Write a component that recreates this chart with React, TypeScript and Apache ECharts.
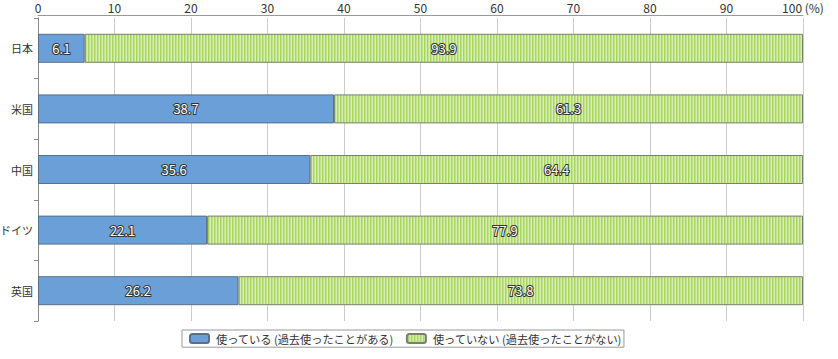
import React, { useEffect, useRef } from "react";
import * as echarts from "echarts";

const categories = ["日本", "米国", "中国", "ドイツ", "英国"];
const usedValues = [6.1, 38.7, 35.6, 22.1, 26.2];
const notUsedValues = [93.9, 61.3, 64.4, 77.9, 73.8];
const seriesNames = ["使っている (過去使ったことがある)", "使っていない (過去使ったことがない)"];
const xTicks = [0, 10, 20, 30, 40, 50, 60, 70, 80, 90, 100];

function makeStripe(): HTMLCanvasElement {
  const c = document.createElement("canvas");
  c.width = 3;
  c.height = 4;
  const ctx = c.getContext("2d")!;
  const cols = ["#d8efb2", "#a6d560", "#bfe28a"];
  cols.forEach((col, i) => {
    ctx.fillStyle = col;
    ctx.fillRect(i, 0, 1, 4);
  });
  return c;
}

export default function App() {
  const ref = useRef<HTMLDivElement>(null);
  useEffect(() => {
    if (!ref.current) return;
    const chart = echarts.init(ref.current, null, { renderer: "svg" });
    const font = "'Noto Sans CJK JP', 'Noto Sans', sans-serif";
    const stripe = makeStripe();
    const label = {
      show: true,
      position: "inside",
      color: "#fff",
      textBorderColor: "#333",
      textBorderWidth: 2,
      fontSize: 13,
      fontFamily: font,
      formatter: (p: any) => p.value.toFixed(1),
    };
    chart.setOption({
      animation: false,
      textStyle: { fontFamily: font },
      grid: { left: 38, right: 35, top: 18, bottom: 38, outerBoundsMode: "none", containLabel: false },
      xAxis: {
        type: "value",
        position: "top",
        min: xTicks[0],
        max: xTicks[xTicks.length - 1],
        interval: 10,
        offset: 3,
        axisLine: { show: true, lineStyle: { color: "#999" } },
        axisTick: { show: false },
        axisLabel: {
          color: "#333",
          fontSize: 12,
          lineHeight: 12,
          margin: 2,
          formatter: (v: number) => (v === 100 ? "100 (%)" : String(v)),
        },
        splitLine: { show: true, lineStyle: { color: "#ccc" } },
      },
      yAxis: {
        type: "category",
        inverse: true,
        data: categories,
        axisLine: { show: true, lineStyle: { color: "#888" } },
        axisTick: { show: true, length: 4, lineStyle: { color: "#888" } },
        axisLabel: { color: "#333", fontSize: 11, margin: 5 },
      },
      legend: {
        top: 330,
        left: 182,
        itemWidth: 19,
        itemHeight: 9,
        itemGap: 12,
        padding: [3, 2, 3, 7],
        borderColor: "#999",
        borderWidth: 1,
        textStyle: { color: "#333", fontSize: 11.2, padding: [0, 0, 0, 2] },
        data: seriesNames,
      },
      series: [
        {
          name: seriesNames[0],
          type: "bar",
          stack: "total",
          barWidth: 29,
          data: usedValues,
          itemStyle: { color: "#6a9fd8", borderColor: "#5a6f8a", borderWidth: 1 },
          label,
        },
        {
          name: seriesNames[1],
          type: "bar",
          stack: "total",
          barWidth: 29,
          data: notUsedValues,
          itemStyle: {
            color: { image: stripe, repeat: "repeat" },
            borderColor: "#7a8070",
            borderWidth: 1,
          },
          label,
        },
      ],
    });
    return () => chart.dispose();
  }, []);
  return (
    <div
      ref={ref}
      style={{ width: 838, height: 359, position: "absolute", left: 0, top: 0 }}
    />
  );
}
